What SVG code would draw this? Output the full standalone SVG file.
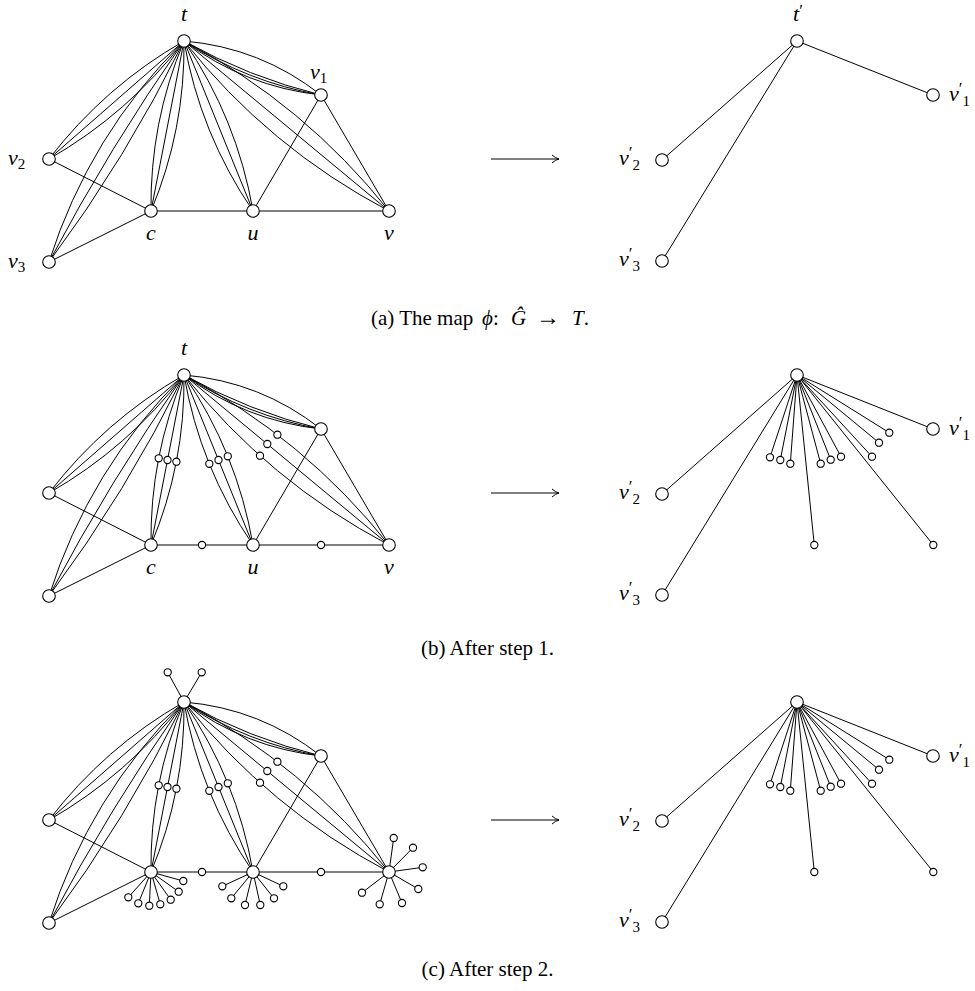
<svg xmlns="http://www.w3.org/2000/svg" xmlns:xlink="http://www.w3.org/1999/xlink" width="975" height="991" viewBox="0 0 975 991">
<style>
.e{fill:none;stroke:#000;stroke-width:1}
.n{fill:#fff;stroke:#000;stroke-width:1.1}
.lbl{font-family:"Liberation Serif",serif;font-style:italic;font-size:22px;fill:#000}
.sub{font-style:normal;font-size:15px}
.pr{font-style:normal;font-size:17px}
.cap{font-family:"Liberation Serif",serif;font-size:21px;fill:#000}
.it{font-style:italic}
</style>
<defs>
<marker id="arr" viewBox="0 0 10 10" refX="9.5" refY="5" markerWidth="10" markerHeight="10" markerUnits="userSpaceOnUse" orient="auto">
<path d="M2.5,1 Q6,4.2 9.5,5 Q6,5.8 2.5,9" fill="none" stroke="#000" stroke-width="1"/>
</marker>
<g id="gEdges">
<path class="e" d="M184,41 Q104.7,86.4 49,159"/>
<path class="e" d="M184,41 L49,159"/>
<path class="e" d="M184,41 Q128.3,113.6 49,159"/>
<path class="e" d="M184,41 Q89.2,134.8 49,262"/>
<path class="e" d="M184,41 Q109.7,147.3 49,262"/>
<path class="e" d="M184,41 Q126.7,157.8 49,262"/>
<path class="e" d="M184,41 Q149.8,122.6 151,211"/>
<path class="e" d="M184,41 L151,211"/>
<path class="e" d="M184,41 Q185.2,129.4 151,211"/>
<path class="e" d="M184,41 Q200,133.5 253,211"/>
<path class="e" d="M184,41 L253,211"/>
<path class="e" d="M184,41 Q237,118.5 253,211"/>
<path class="e" d="M184,41 Q268.6,147.6 389,211"/>
<path class="e" d="M184,41 L389,211"/>
<path class="e" d="M184,41 Q304.4,104.4 389,211"/>
<path class="e" d="M184,41 Q260.6,47.5 321,95"/>
<path class="e" d="M184,41 Q248.8,77.3 321,95"/>
<path class="e" d="M184,41 Q247,82 321,95"/>
<path class="e" d="M184,41 Q245.2,86.6 321,95"/>
<path class="e" d="M49,159 L151,211"/>
<path class="e" d="M49,262 L151,211"/>
<path class="e" d="M151,211 L389,211"/>
<path class="e" d="M253,211 L321,95"/>
<path class="e" d="M321,95 L389,211"/>
</g>
<g id="tEdges">
<path class="e" d="M797,41 L933,95"/>
<path class="e" d="M797,41 L662,160"/>
<path class="e" d="M797,41 L662,261"/>
</g>
<g id="tLeafEdges">
<path class="e" d="M797,41 L770,123.3 M797,41 L780.3,126 M797,41 L790.3,129.7 M797,41 L820.7,129.7 M797,41 L830.7,125.7 M797,41 L841,122.7 M797,41 L872,122.7 M797,41 L879,108.7 M797,41 L889.3,98.7 M797,41 L814.3,211 M797,41 L933.3,211"/>
</g>
</defs>

<g id="connectors">
<g id="edges-a">
<use xlink:href="#gEdges"/>
<use xlink:href="#tEdges"/>
<path class="e" d="M491,159 L559,159" marker-end="url(#arr)"/>
</g>
<g id="edges-b" transform="translate(0,334)">
<use xlink:href="#gEdges"/>
<use xlink:href="#tEdges"/>
<use xlink:href="#tLeafEdges"/>
<path class="e" d="M491,159 L559,159" marker-end="url(#arr)"/>
</g>
<g id="edges-c" transform="translate(0,661)">
<use xlink:href="#gEdges"/>
<use xlink:href="#tEdges"/>
<use xlink:href="#tLeafEdges"/>
<path class="e" d="M491,159 L559,159" marker-end="url(#arr)"/>
<path class="e" d="M184,41 L167.7,11.3 M184,41 L201.7,11.3"/>
<path class="e" d="M151,211 L128.3,236.3 M151,211 L138.3,242.3 M151,211 L149.3,244.7 M151,211 L160.3,243.3 M151,211 L170.7,238.7 M151,211 L178.7,230.7 M151,211 L183.3,220"/>
<path class="e" d="M253,211 L222.3,225.3 M253,211 L231.3,237.3 M253,211 L245,244 M253,211 L260.3,244 M253,211 L274,237.3 M253,211 L283.3,225.3"/>
<path class="e" d="M389,211 L393.7,177 M389,211 L413,186.7 M389,211 L422.7,206.3 M389,211 L418.3,228 M389,211 L402,242 M389,211 L379.7,243.3 M389,211 L362,231.7"/>
</g>
</g>

<!-- Panel (a) -->
<g id="panel-a">
<g id="a-t"><circle class="n" cx="184" cy="41" r="6.3"/><text class="lbl" x="184" y="21" text-anchor="middle">t</text></g>
<g id="a-v1"><circle class="n" cx="321" cy="95" r="6.3"/><text class="lbl" x="310" y="79">v<tspan class="sub" dy="4">1</tspan></text></g>
<g id="a-v2"><circle class="n" cx="49" cy="159" r="6.3"/><text class="lbl" x="8" y="165">v<tspan class="sub" dy="4">2</tspan></text></g>
<g id="a-v3"><circle class="n" cx="49" cy="262" r="6.3"/><text class="lbl" x="8" y="268">v<tspan class="sub" dy="4">3</tspan></text></g>
<g id="a-c"><circle class="n" cx="151" cy="211" r="6.3"/><text class="lbl" x="151" y="240" text-anchor="middle">c</text></g>
<g id="a-u"><circle class="n" cx="253" cy="211" r="6.3"/><text class="lbl" x="253" y="240" text-anchor="middle">u</text></g>
<g id="a-v"><circle class="n" cx="389" cy="211" r="6.3"/><text class="lbl" x="389" y="240" text-anchor="middle">v</text></g>
<g id="a-t1"><circle class="n" cx="797" cy="41" r="6.3"/><text class="lbl" x="793" y="21">t<tspan class="pr" dy="-5">′</tspan></text></g>
<g id="a-v1p"><circle class="n" cx="933" cy="95" r="6.3"/><text class="lbl" x="949" y="101">v<tspan class="pr" dy="-7">′</tspan><tspan class="sub" dy="12">1</tspan></text></g>
<g id="a-v2p"><circle class="n" cx="662" cy="160" r="6.3"/><text class="lbl" x="619" y="165">v<tspan class="pr" dy="-7">′</tspan><tspan class="sub" dy="12">2</tspan></text></g>
<g id="a-v3p"><circle class="n" cx="662" cy="261" r="6.3"/><text class="lbl" x="619" y="266">v<tspan class="pr" dy="-7">′</tspan><tspan class="sub" dy="12">3</tspan></text></g>
<text id="cap-a" class="cap" x="371" y="325">(a) The map <tspan class="it" x="482">ϕ</tspan>: <tspan class="it" x="511">Ĝ</tspan><tspan x="536" font-size="24">→</tspan><tspan class="it" x="572">T</tspan>.</text>
</g>

<!-- Panel (b) -->
<g id="panel-b" transform="translate(0,334)">
<g id="b-t"><circle class="n" cx="184" cy="41" r="6.3"/><text class="lbl" x="184" y="21" text-anchor="middle">t</text></g>
<g id="b-v1"><circle class="n" cx="321" cy="95" r="6.3"/></g>
<g id="b-v2"><circle class="n" cx="49" cy="159" r="6.3"/></g>
<g id="b-v3"><circle class="n" cx="49" cy="262" r="6.3"/></g>
<g id="b-c"><circle class="n" cx="151" cy="211" r="6.3"/><text class="lbl" x="151" y="240" text-anchor="middle">c</text></g>
<g id="b-u"><circle class="n" cx="253" cy="211" r="6.3"/><text class="lbl" x="253" y="240" text-anchor="middle">u</text></g>
<g id="b-v"><circle class="n" cx="389" cy="211" r="6.3"/><text class="lbl" x="389" y="240" text-anchor="middle">v</text></g>
<g id="b-s1"><circle class="n" cx="158.7" cy="124.3" r="3.6"/></g>
<g id="b-s2"><circle class="n" cx="167.5" cy="126" r="3.6"/></g>
<g id="b-s3"><circle class="n" cx="176.4" cy="127.7" r="3.6"/></g>
<g id="b-s4"><circle class="n" cx="209.3" cy="129.8" r="3.6"/></g>
<g id="b-s5"><circle class="n" cx="218.5" cy="126" r="3.6"/></g>
<g id="b-s6"><circle class="n" cx="227.8" cy="122.3" r="3.6"/></g>
<g id="b-s7"><circle class="n" cx="260" cy="121.7" r="3.6"/></g>
<g id="b-s8"><circle class="n" cx="267.3" cy="110" r="3.6"/></g>
<g id="b-s9"><circle class="n" cx="277.4" cy="100.7" r="3.6"/></g>
<g id="b-s10"><circle class="n" cx="202" cy="211" r="3.6"/></g>
<g id="b-s11"><circle class="n" cx="321" cy="211" r="3.6"/></g>
<g id="b-t1"><circle class="n" cx="797" cy="41" r="6.3"/></g>
<g id="b-v1p"><circle class="n" cx="933" cy="95" r="6.3"/><text class="lbl" x="949" y="101">v<tspan class="pr" dy="-7">′</tspan><tspan class="sub" dy="12">1</tspan></text></g>
<g id="b-v2p"><circle class="n" cx="662" cy="160" r="6.3"/><text class="lbl" x="619" y="165">v<tspan class="pr" dy="-7">′</tspan><tspan class="sub" dy="12">2</tspan></text></g>
<g id="b-v3p"><circle class="n" cx="662" cy="261" r="6.3"/><text class="lbl" x="619" y="266">v<tspan class="pr" dy="-7">′</tspan><tspan class="sub" dy="12">3</tspan></text></g>
<g id="b-l1"><circle class="n" cx="770" cy="123.3" r="3.6"/></g>
<g id="b-l2"><circle class="n" cx="780.3" cy="126" r="3.6"/></g>
<g id="b-l3"><circle class="n" cx="790.3" cy="129.7" r="3.6"/></g>
<g id="b-l4"><circle class="n" cx="820.7" cy="129.7" r="3.6"/></g>
<g id="b-l5"><circle class="n" cx="830.7" cy="125.7" r="3.6"/></g>
<g id="b-l6"><circle class="n" cx="841" cy="122.7" r="3.6"/></g>
<g id="b-l7"><circle class="n" cx="872" cy="122.7" r="3.6"/></g>
<g id="b-l8"><circle class="n" cx="879" cy="108.7" r="3.6"/></g>
<g id="b-l9"><circle class="n" cx="889.3" cy="98.7" r="3.6"/></g>
<g id="b-l10"><circle class="n" cx="814.3" cy="211" r="3.6"/></g>
<g id="b-l11"><circle class="n" cx="933.3" cy="211" r="3.6"/></g>
<text id="cap-b" class="cap" x="487.5" y="321" text-anchor="middle">(b) After step 1.</text>
</g>

<!-- Panel (c) -->
<g id="panel-c" transform="translate(0,661)">
<g id="c-t"><circle class="n" cx="184" cy="41" r="6.3"/></g>
<g id="c-v1"><circle class="n" cx="321" cy="95" r="6.3"/></g>
<g id="c-v2"><circle class="n" cx="49" cy="159" r="6.3"/></g>
<g id="c-v3"><circle class="n" cx="49" cy="262" r="6.3"/></g>
<g id="c-c"><circle class="n" cx="151" cy="211" r="6.3"/></g>
<g id="c-u"><circle class="n" cx="253" cy="211" r="6.3"/></g>
<g id="c-v"><circle class="n" cx="389" cy="211" r="6.3"/></g>
<g id="c-s1"><circle class="n" cx="158.7" cy="124.3" r="3.6"/></g>
<g id="c-s2"><circle class="n" cx="167.5" cy="126" r="3.6"/></g>
<g id="c-s3"><circle class="n" cx="176.4" cy="127.7" r="3.6"/></g>
<g id="c-s4"><circle class="n" cx="209.3" cy="129.8" r="3.6"/></g>
<g id="c-s5"><circle class="n" cx="218.5" cy="126" r="3.6"/></g>
<g id="c-s6"><circle class="n" cx="227.8" cy="122.3" r="3.6"/></g>
<g id="c-s7"><circle class="n" cx="260" cy="121.7" r="3.6"/></g>
<g id="c-s8"><circle class="n" cx="267.3" cy="110" r="3.6"/></g>
<g id="c-s9"><circle class="n" cx="277.4" cy="100.7" r="3.6"/></g>
<g id="c-s10"><circle class="n" cx="202" cy="211" r="3.6"/></g>
<g id="c-s11"><circle class="n" cx="321" cy="211" r="3.6"/></g>
<g id="c-tl1"><circle class="n" cx="167.7" cy="11.3" r="3.6"/></g>
<g id="c-tl2"><circle class="n" cx="201.7" cy="11.3" r="3.6"/></g>
<g id="c-cl1"><circle class="n" cx="128.3" cy="236.3" r="3.6"/></g>
<g id="c-cl2"><circle class="n" cx="138.3" cy="242.3" r="3.6"/></g>
<g id="c-cl3"><circle class="n" cx="149.3" cy="244.7" r="3.6"/></g>
<g id="c-cl4"><circle class="n" cx="160.3" cy="243.3" r="3.6"/></g>
<g id="c-cl5"><circle class="n" cx="170.7" cy="238.7" r="3.6"/></g>
<g id="c-cl6"><circle class="n" cx="178.7" cy="230.7" r="3.6"/></g>
<g id="c-cl7"><circle class="n" cx="183.3" cy="220" r="3.6"/></g>
<g id="c-ul1"><circle class="n" cx="222.3" cy="225.3" r="3.6"/></g>
<g id="c-ul2"><circle class="n" cx="231.3" cy="237.3" r="3.6"/></g>
<g id="c-ul3"><circle class="n" cx="245" cy="244" r="3.6"/></g>
<g id="c-ul4"><circle class="n" cx="260.3" cy="244" r="3.6"/></g>
<g id="c-ul5"><circle class="n" cx="274" cy="237.3" r="3.6"/></g>
<g id="c-ul6"><circle class="n" cx="283.3" cy="225.3" r="3.6"/></g>
<g id="c-vl1"><circle class="n" cx="393.7" cy="177" r="3.6"/></g>
<g id="c-vl2"><circle class="n" cx="413" cy="186.7" r="3.6"/></g>
<g id="c-vl3"><circle class="n" cx="422.7" cy="206.3" r="3.6"/></g>
<g id="c-vl4"><circle class="n" cx="418.3" cy="228" r="3.6"/></g>
<g id="c-vl5"><circle class="n" cx="402" cy="242" r="3.6"/></g>
<g id="c-vl6"><circle class="n" cx="379.7" cy="243.3" r="3.6"/></g>
<g id="c-vl7"><circle class="n" cx="362" cy="231.7" r="3.6"/></g>
<g id="c-t1"><circle class="n" cx="797" cy="41" r="6.3"/></g>
<g id="c-v1p"><circle class="n" cx="933" cy="95" r="6.3"/><text class="lbl" x="949" y="101">v<tspan class="pr" dy="-7">′</tspan><tspan class="sub" dy="12">1</tspan></text></g>
<g id="c-v2p"><circle class="n" cx="662" cy="160" r="6.3"/><text class="lbl" x="619" y="165">v<tspan class="pr" dy="-7">′</tspan><tspan class="sub" dy="12">2</tspan></text></g>
<g id="c-v3p"><circle class="n" cx="662" cy="261" r="6.3"/><text class="lbl" x="619" y="266">v<tspan class="pr" dy="-7">′</tspan><tspan class="sub" dy="12">3</tspan></text></g>
<g id="c-l1"><circle class="n" cx="770" cy="123.3" r="3.6"/></g>
<g id="c-l2"><circle class="n" cx="780.3" cy="126" r="3.6"/></g>
<g id="c-l3"><circle class="n" cx="790.3" cy="129.7" r="3.6"/></g>
<g id="c-l4"><circle class="n" cx="820.7" cy="129.7" r="3.6"/></g>
<g id="c-l5"><circle class="n" cx="830.7" cy="125.7" r="3.6"/></g>
<g id="c-l6"><circle class="n" cx="841" cy="122.7" r="3.6"/></g>
<g id="c-l7"><circle class="n" cx="872" cy="122.7" r="3.6"/></g>
<g id="c-l8"><circle class="n" cx="879" cy="108.7" r="3.6"/></g>
<g id="c-l9"><circle class="n" cx="889.3" cy="98.7" r="3.6"/></g>
<g id="c-l10"><circle class="n" cx="814.3" cy="211" r="3.6"/></g>
<g id="c-l11"><circle class="n" cx="933.3" cy="211" r="3.6"/></g>
<text id="cap-c" class="cap" x="487.5" y="315" text-anchor="middle">(c) After step 2.</text>
</g>
</svg>
